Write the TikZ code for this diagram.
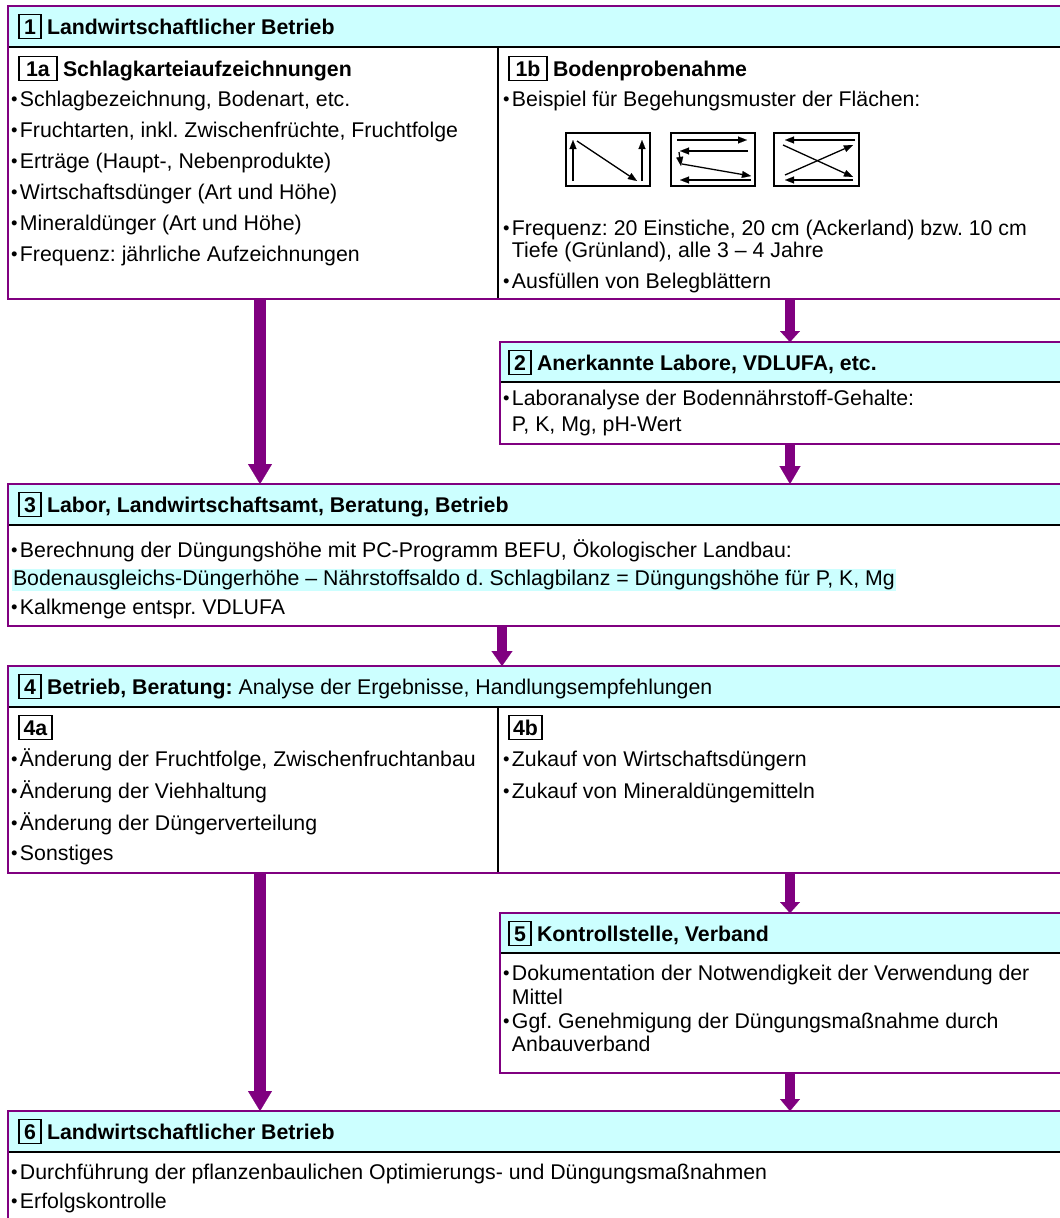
\documentclass[tikz,border=0pt]{standalone}
\usepackage{fontspec}
\setmainfont{Liberation Sans}
\usetikzlibrary{arrows.meta}
\definecolor{vpurple}{RGB}{128,0,128}
\definecolor{vcyan}{RGB}{204,255,255}
\frenchspacing
\newcommand\fs{\fontsize{21.3}{25}\selectfont\frenchspacing}
\newcommand\bul{\raisebox{0.3pt}{\fontsize{18.5}{18}\selectfont •}\hspace{2.5pt}}
\newcommand\nobul{\phantom{\bul}}
\begin{document}
\begin{tikzpicture}[x=1pt,y=-1pt,
  every node/.style={font=\fs, inner sep=0pt, outer sep=0pt},
  panel/.style={draw=vpurple, line width=2pt, anchor=north west, rectangle},
  hfill/.style={fill=vcyan, anchor=north west, rectangle},
  hline/.style={draw=black, line width=2.6pt},
  divider/.style={draw=black, line width=1.6pt},
  numbox/.style={draw=black, line width=1.4pt, font=\fs\bfseries, anchor=base west,
     minimum height=24pt, minimum width=22pt, text height=15pt, text depth=0pt},
  txt/.style={anchor=base west},
  htxt/.style={anchor=base west, font=\fs\bfseries},
  hilite/.style={anchor=base west, fill=vcyan, inner xsep=1pt, text height=16pt, text depth=6pt},
  bigflow/.style={draw=vpurple, line width=12pt, -{Triangle[length=20pt,width=24pt,line width=0.1pt]}},
  walk/.style={line width=1.3pt, -{Triangle[length=9pt,width=7pt,line width=0.1pt]}},
  frame/.style={draw=black, line width=1.5pt},
]
\useasboundingbox (0,0) rectangle (1060,1218);
\clip (0,0) rectangle (1060,1218);
\fill[white] (0,0) rectangle (1060,1218);

% ---------- header fills ----------
\node[hfill, minimum width=1072pt, minimum height=41pt] (h1) at (8,6) {};
\node[hfill, minimum width=580pt, minimum height=40pt] (h2) at (500,342) {};
\node[hfill, minimum width=1072pt, minimum height=41pt] (h3) at (8,484) {};
\node[hfill, minimum width=1072pt, minimum height=41pt] (h4) at (8,666) {};
\node[hfill, minimum width=580pt, minimum height=40pt] (h5) at (500,913) {};
\node[hfill, minimum width=1072pt, minimum height=41pt] (h6) at (8,1111) {};
\foreach \h in {h1,h2,h3,h4,h5,h6} \draw[hline] (\h.south west) -- (\h.south east);

% ---------- column dividers ----------
\draw[divider] (498,47) -- (498,299);
\draw[divider] (498,707) -- (498,873);

% ---------- panels ----------
\node[panel, minimum width=1072pt, minimum height=293pt] (b1) at (8,6) {};
\node[panel, minimum width=580pt, minimum height=102pt] (b2) at (500,342) {};
\node[panel, minimum width=1072pt, minimum height=142pt] (b3) at (8,484) {};
\node[panel, minimum width=1072pt, minimum height=207pt] (b4) at (8,666) {};
\node[panel, minimum width=580pt, minimum height=160pt] (b5) at (500,913) {};
\node[panel, minimum width=1072pt, minimum height=140pt] (b6) at (8,1111) {};

% ---------- box 1 ----------
\node[numbox] (n1) at (19,34) {1};
\node[htxt] (t1) at ([xshift=6pt]n1.base east) {Landwirtschaftlicher Betrieb};
\node[numbox, minimum width=38pt] (n1a) at (19,76) {1a};
\node[htxt] (t1a) at ([xshift=6pt]n1a.base east) {Schlagkarteiaufzeichnungen};
\node[txt] (a1) at (11,106) {\bul Schlagbezeichnung, Bodenart, etc.};
\node[txt] (a2) at (11,137) {\bul Fruchtarten, inkl. Zwischenfrüchte, Fruchtfolge};
\node[txt] (a3) at (11,168) {\bul Erträge (Haupt-, Nebenprodukte)};
\node[txt] (a4) at (11,199) {\bul Wirtschaftsdünger (Art und Höhe)};
\node[txt] (a5) at (11,230) {\bul Mineraldünger (Art und Höhe)};
\node[txt] (a6) at (11,261) {\bul Frequenz: jährliche Aufzeichnungen};

\node[numbox, minimum width=38pt] (n1b) at (509,76) {1b};
\node[htxt] (t1b) at ([xshift=6pt]n1b.base east) {Bodenprobenahme};
\node[txt] (c1) at (503,106) {\bul Beispiel für Begehungsmuster der Flächen:};
\node[txt] (c2) at (503,235) {\bul Frequenz: 20 Einstiche, 20 cm (Ackerland) bzw. 10 cm};
\node[txt] (c3) at (503,257) {\nobul Tiefe (Grünland), alle 3 – 4 Jahre};
\node[txt] (c4) at (503,288) {\bul Ausfüllen von Belegblättern};

% walking patterns
\draw[frame] (566,133) rectangle (650,186);
\draw[walk] (573,181) -- (573,140);
\draw[walk] (577,141) -- (637,181);
\draw[walk] (642,181) -- (642,140);
\draw[frame] (671,133) rectangle (755,186);
\draw[walk] (677,140) -- (747,140);
\draw[walk] (748,151) -- (680,151);
\draw[walk] (679,152) -- (681,166);
\draw[walk] (682,164) -- (751,176);
\draw[walk] (751,180) -- (680,180);
\draw[frame] (774,133) rectangle (859,186);
\draw[walk] (855,140) -- (785,140);
\draw[walk] (783,145) -- (853,177);
\draw[walk] (785,175) -- (853,145);
\draw[walk] (853,180) -- (785,180);

% ---------- box 2 ----------
\node[numbox] (n2) at (509,370) {2};
\node[htxt] (t2) at ([xshift=6pt]n2.base east) {Anerkannte Labore, VDLUFA, etc.};
\node[txt] (d1) at (503,405) {\bul Laboranalyse der Bodennährstoff-Gehalte:};
\node[txt] (d2) at (503,431) {\nobul P, K, Mg, pH-Wert};

% ---------- box 3 ----------
\node[numbox] (n3) at (19,512) {3};
\node[htxt] (t3) at ([xshift=6pt]n3.base east) {Labor, Landwirtschaftsamt, Beratung, Betrieb};
\node[txt] (e1) at (11,557) {\bul Berechnung der Düngungshöhe mit PC-Programm BEFU, Ökologischer Landbau:};
\node[hilite] (e2) at (12,585) {Bodenausgleichs-Düngerhöhe – Nährstoffsaldo d. Schlagbilanz = Düngungshöhe für P, K, Mg};
\node[txt] (e3) at (11,614) {\bul Kalkmenge entspr. VDLUFA};

% ---------- box 4 ----------
\node[numbox] (n4) at (19,694) {4};
\node[txt] (t4) at ([xshift=6pt]n4.base east) {\textbf{Betrieb, Beratung:} Analyse der Ergebnisse, Handlungsempfehlungen};
\node[numbox, minimum width=33pt] (n4a) at (19,735) {4a};
\node[numbox, minimum width=33pt] (n4b) at (509,735) {4b};
\node[txt] (f1) at (11,766) {\bul Änderung der Fruchtfolge, Zwischenfruchtanbau};
\node[txt] (f2) at (11,798) {\bul Änderung der Viehhaltung};
\node[txt] (f3) at (11,830) {\bul Änderung der Düngerverteilung};
\node[txt] (f4) at (11,860) {\bul Sonstiges};
\node[txt] (g1) at (503,766) {\bul Zukauf von Wirtschaftsdüngern};
\node[txt] (g2) at (503,798) {\bul Zukauf von Mineraldüngemitteln};

% ---------- box 5 ----------
\node[numbox] (n5) at (509,941) {5};
\node[htxt] (t5) at ([xshift=6pt]n5.base east) {Kontrollstelle, Verband};
\node[txt] (k1) at (503,980) {\bul Dokumentation der Notwendigkeit der Verwendung der};
\node[txt] (k2) at (503,1004) {\nobul Mittel};
\node[txt] (k3) at (503,1028) {\bul Ggf. Genehmigung der Düngungsmaßnahme durch};
\node[txt] (k4) at (503,1051) {\nobul Anbauverband};

% ---------- box 6 ----------
\node[numbox] (n6) at (19,1139) {6};
\node[htxt] (t6) at ([xshift=6pt]n6.base east) {Landwirtschaftlicher Betrieb};
\node[txt] (m1) at (11,1179) {\bul Durchführung der pflanzenbaulichen Optimierungs- und Düngungsmaßnahmen};
\node[txt] (m2) at (11,1208) {\bul Erfolgskontrolle};

% ---------- flow arrows ----------
\coordinate (xl) at (260,0);
\coordinate (xr) at (790,0);
\coordinate (xm) at (502,0);
\draw[bigflow] (b1.south -| xl) -- (b3.north -| xl);
\draw[draw=vpurple, line width=10pt, -{Triangle[length=11pt,width=20pt,line width=0.1pt]}] (b1.south -| xr) -- (b2.north -| xr);
\draw[draw=vpurple, line width=10pt, -{Triangle[length=18pt,width=21pt,line width=0.1pt]}] (b2.south -| xr) -- (b3.north -| xr);
\draw[draw=vpurple, line width=10pt, -{Triangle[length=15pt,width=21pt,line width=0.1pt]}] (b3.south -| xm) -- (b4.north -| xm);
\draw[bigflow] (b4.south -| xl) -- (b6.north -| xl);
\draw[draw=vpurple, line width=10pt, -{Triangle[length=11pt,width=20pt,line width=0.1pt]}] (b4.south -| xr) -- (b5.north -| xr);
\draw[draw=vpurple, line width=10pt, -{Triangle[length=12pt,width=20pt,line width=0.1pt]}] (b5.south -| xr) -- (b6.north -| xr);
\end{tikzpicture}
\end{document}
